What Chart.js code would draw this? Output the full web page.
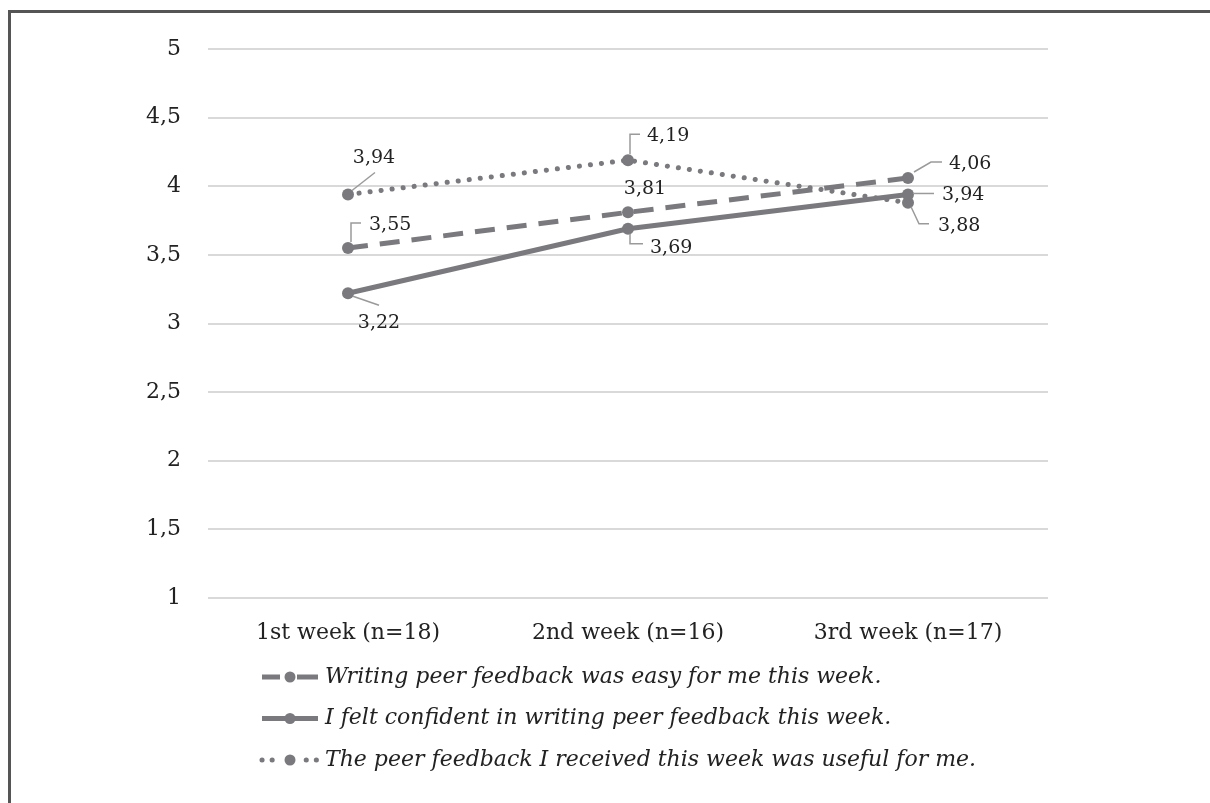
<!DOCTYPE html>
<html>
<head>
<meta charset="utf-8">
<script src="https://cdn.jsdelivr.net/npm/chart.js@4/dist/chart.umd.min.js"></script>
<style>
  html, body { margin: 0; padding: 0; background: #fff; }
  #frame {
    position: absolute; left: 8px; top: 10px; right: -10px; bottom: -10px;
    border-left: 3px solid #555; border-top: 3px solid #555;
  }
  #wrap { position: absolute; left: 0; top: 0; width: 1210px; height: 803px; }
</style>
</head>
<body>
<div id="frame"></div>
<div id="wrap"><canvas id="chart" width="1210" height="803"></canvas></div>
<script>
const weeks = ['1st week (n=18)', '2nd week (n=16)', '3rd week (n=17)']
const easyValues = [3.55, 3.81, 4.06]
const confidentValues = [3.22, 3.69, 3.94]
const usefulValues = [3.94, 4.19, 3.88]
const seriesNames = [
  'Writing peer feedback was easy for me this week.',
  'I felt confident in writing peer feedback this week.',
  'The peer feedback I received this week was useful for me.'
]
const yTicks = [1, 1.5, 2, 2.5, 3, 3.5, 4, 4.5, 5]

const GRAY = 'rgb(122,122,126)'
const SERIF = '"DejaVu Serif", serif'

// where each value label sits relative to its point, and its leader line
const labelPlacement = [
  [
    { dx: 21, dy: -23, align: 'left', leader: [[3, -6], [3, -25], [13, -25]] },
    { dx: 17, dy: -23, align: 'center', leader: null },
    { dx: 41, dy: -14, align: 'left', leader: [[6, -6], [23, -16], [34, -16]] }
  ],
  [
    { dx: 31, dy: 30, align: 'center', leader: [[5, 3], [31, 12]] },
    { dx: 22, dy: 19, align: 'left', leader: [[2, 5], [2, 15], [15, 15]] },
    { dx: 34, dy: 1, align: 'left', leader: [[5, -1], [26, -1]] }
  ],
  [
    { dx: 26, dy: -36, align: 'center', leader: [[4, -4], [27, -22]] },
    { dx: 19, dy: -24, align: 'left', leader: [[2, -6], [2, -26], [12, -26]] },
    { dx: 30, dy: 23, align: 'left', leader: [[3, 4], [11, 21], [21, 21]] }
  ]
]

const fmt = (v) => String(v).replace('.', ',')

const valueLabels = {
  id: 'valueLabels',
  afterDatasetsDraw(chart) {
    const ctx = chart.ctx
    ctx.save()
    ctx.font = '19px ' + SERIF
    ctx.textBaseline = 'middle'
    chart.data.datasets.forEach((ds, i) => {
      chart.getDatasetMeta(i).data.forEach((pt, j) => {
        const p = labelPlacement[i][j]
        if (p.leader) {
          ctx.beginPath()
          ctx.strokeStyle = '#9a9a9a'
          ctx.lineWidth = 1.5
          p.leader.forEach(([lx, ly], k) => {
            if (k === 0) ctx.moveTo(pt.x + lx, pt.y + ly)
            else ctx.lineTo(pt.x + lx, pt.y + ly)
          })
          ctx.stroke()
        }
        ctx.fillStyle = '#222'
        ctx.textAlign = p.align
        ctx.fillText(fmt(ds.data[j]), pt.x + p.dx, pt.y + p.dy)
      })
    })
    ctx.restore()
  }
}

const lineLegend = {
  id: 'lineLegend',
  afterDraw(chart) {
    const ctx = chart.ctx
    const x0 = 262, x1 = 318, rowTop = 677, rowGap = 41.5
    ctx.save()
    chart.data.datasets.forEach((ds, i) => {
      const y = rowTop + i * rowGap
      ctx.beginPath()
      ctx.strokeStyle = ds.borderColor
      ctx.lineWidth = ds.legendWidth
      ctx.lineCap = ds.borderCapStyle || 'butt'
      ctx.setLineDash(ds.legendDash || [])
      ctx.moveTo(x0, y)
      ctx.lineTo(x1, y)
      ctx.stroke()
      ctx.setLineDash([])
      ctx.beginPath()
      ctx.fillStyle = ds.pointBackgroundColor
      ctx.arc(290, y, 5.5, 0, Math.PI * 2)
      ctx.fill()
      ctx.fillStyle = '#222'
      ctx.font = 'italic 22px ' + SERIF
      ctx.textAlign = 'left'
      ctx.textBaseline = 'middle'
      ctx.fillText(ds.label, 325, y)
    })
    ctx.restore()
  }
}

function series(label, data, dash, legendDash, cap) {
  return {
    label: label,
    data: data,
    borderColor: GRAY,
    backgroundColor: GRAY,
    pointBackgroundColor: GRAY,
    pointBorderColor: GRAY,
    borderWidth: 5,
    legendWidth: 5,
    borderDash: dash,
    legendDash: legendDash,
    borderCapStyle: cap,
    pointRadius: 6,
    pointBorderWidth: 0,
    pointHoverRadius: 6,
    tension: 0,
    fill: false
  }
}

new Chart(document.getElementById('chart'), {
  type: 'line',
  data: {
    labels: weeks,
    datasets: [
      series(seriesNames[0], easyValues, [20, 12], [18, 17, 21], 'butt'),
      series(seriesNames[1], confidentValues, [], [], 'butt'),
      series(seriesNames[2], usefulValues, [0.1, 11], [0.1, 10, 0.1, 34, 0.1, 10], 'round')
    ]
  },
  options: {
    responsive: false,
    animation: false,
    events: [],
    layout: { padding: { top: 49, right: 162, bottom: 157, left: 0 } },
    plugins: {
      legend: { display: false },
      tooltip: { enabled: false }
    },
    scales: {
      x: {
        offset: true,
        grid: { display: false, drawTicks: false },
        border: { display: false },
        ticks: { color: '#222', font: { family: SERIF, size: 22 }, padding: 22 },
        afterFit(scale) { scale.height = 48 }
      },
      y: {
        min: 1,
        max: 5,
        afterBuildTicks(scale) { scale.ticks = yTicks.map(v => ({ value: v })) },
        grid: { color: '#d9d9d9', lineWidth: 2, drawTicks: false },
        border: { display: false },
        ticks: {
          color: '#222',
          font: { family: SERIF, size: 22 },
          padding: 27,
          callback: (v) => fmt(v)
        },
        afterFit(scale) { scale.width = 208 }
      }
    }
  },
  plugins: [valueLabels, lineLegend]
})
</script>
</body>
</html>
